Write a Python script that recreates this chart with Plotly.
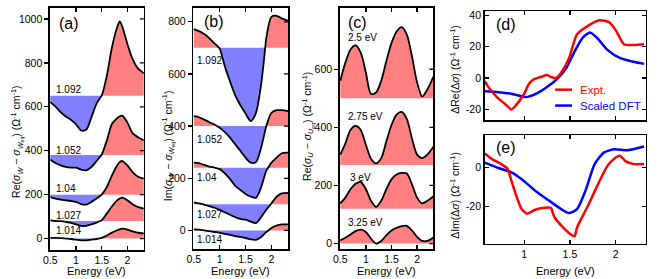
import plotly.graph_objects as go

W, H = 664, 279

# ---------------- data ----------------
E_A = [0.5, 0.6, 0.7, 0.8, 0.9, 1.0, 1.1, 1.2, 1.3, 1.4, 1.5, 1.6, 1.7, 1.8, 1.85, 1.9, 2.0, 2.1, 2.2, 2.32]
A_LABELS = ["1.092", "1.052", "1.04", "1.027", "1.014"]
A_BASE = [650, 380, 200, 80, 0]
A_1092 = [621, 601, 576, 556, 541, 520, 492, 496, 553, 614, 651, 742, 871, 962, 989, 965, 886, 818, 776, 753]
A_1052 = [359, 344, 333, 326, 323, 323, 314, 311, 326, 353, 382, 447, 523, 548, 557, 560, 528, 480, 462, 447]
A_1040 = [189, 182, 177, 174, 171, 167, 157, 155, 167, 182, 200, 235, 288, 333, 348, 353, 333, 303, 283, 273]
A_1027 = [83, 80, 79, 76, 71, 65, 58, 58, 65, 73, 83, 114, 147, 174, 182, 186, 174, 156, 144, 136]
A_1014 = [3, 3, 2, 0, -2, -5, -8, -8, -5, -2, 3, 14, 27, 38, 42, 45, 41, 33, 27, 23]
A_LABEL_Y = [677, 401, 230, 106, 38]

E_B = [0.5, 0.6, 0.7, 0.8, 0.9, 1.0, 1.1, 1.2, 1.3, 1.4, 1.5, 1.6, 1.7, 1.8, 1.9, 2.0, 2.1, 2.2, 2.32]
B_BASE = [700, 400, 240, 100, 0]
B_1092 = [772, 764, 753, 737, 717, 698, 629, 571, 518, 480, 448, 419, 451, 559, 737, 819, 823, 813, 804]
B_1052 = [438, 434, 425, 415, 406, 394, 377, 356, 330, 305, 279, 260, 262, 317, 400, 451, 461, 461, 457]
B_1040 = [260, 258, 251, 245, 241, 235, 219, 197, 171, 155, 140, 130, 125, 165, 229, 260, 279, 296, 298]
B_1027 = [108, 104, 99, 93, 87, 79, 69, 60, 51, 44, 41, 34, 28, 51, 79, 104, 129, 142, 144]
B_1014 = [4, 3, 0, -3, -6, -9, -13, -17, -22, -25, -29, -34, -36, -25, -6, 9, 19, 23, 23]
B_LABEL_Y = [650, 349, 203, 63, -36]

E_C = [0.5, 0.6, 0.7, 0.8, 0.9, 1.0, 1.1, 1.2, 1.3, 1.4, 1.5, 1.6, 1.7, 1.8, 1.9, 2.0, 2.1, 2.2, 2.32]
C_LABELS = ["2.5 eV", "2.75 eV", "3 eV", "3.25 eV"]
C_BASE = [500, 270, 120, 0]
C_250 = [560, 623, 668, 682, 657, 589, 515, 520, 560, 628, 690, 730, 745, 719, 645, 555, 506, 530, 575]
C_275 = [306, 345, 391, 405, 391, 340, 292, 276, 294, 351, 408, 444, 453, 428, 362, 306, 294, 306, 333]
C_300 = [138, 158, 187, 206, 212, 187, 147, 126, 147, 187, 221, 238, 243, 241, 204, 158, 138, 147, 163]
C_325 = [11, 20, 31, 43, 48, 40, 17, 0, 9, 28, 45, 54, 60, 61, 45, 23, 9, 9, 21]
C_LABEL_Y = [708, 436, 229, 74]
C_LABEL_X = [0.61, 0.61, 0.65, 0.61]

D_E_EXPT = [0.57, 0.6, 0.7, 0.8, 0.86, 0.9, 1.0, 1.05, 1.1, 1.2, 1.25, 1.3, 1.35, 1.4, 1.49, 1.55, 1.58, 1.71, 1.82, 1.93, 2.0, 2.09, 2.2, 2.31]
D_EXPT = [-2, -5, -12, -17, -20, -18, -10, -4, -1, 1, 2, 0.5, 0, 3, 12.6, 24, 28, 33.7, 36.8, 35.4, 30.5, 21.5, 21, 21.5]
D_E_DFT = [0.57, 0.72, 0.86, 1.0, 1.04, 1.15, 1.26, 1.37, 1.46, 1.55, 1.64, 1.72, 1.8, 1.91, 2.05, 2.18, 2.31]
D_DFT = [-8.4, -9, -10, -12, -12, -9.5, -5.3, 0, 6.3, 16.8, 25.7, 29, 25.3, 17.9, 12.6, 10.5, 9]

E_E_EXPT = [0.57, 0.65, 0.75, 0.82, 0.86, 0.92, 0.97, 1.03, 1.12, 1.22, 1.29, 1.33, 1.42, 1.51, 1.55, 1.58, 1.69, 1.80, 1.91, 2.0, 2.05, 2.11, 2.2, 2.31]
E_EXPT = [7.1, 4.2, 1.7, -0.8, -6.8, -15.3, -21.2, -23.7, -21.7, -20.7, -20.7, -25.4, -30.5, -34.4, -35.3, -30.5, -20.3, -9.3, 0.8, 5.1, 5.9, 3.1, 1.7, 1.7]
E_E_DFT = [0.57, 0.72, 0.86, 0.97, 1.12, 1.26, 1.40, 1.49, 1.58, 1.67, 1.77, 1.87, 1.98, 2.13, 2.31]
E_DFT = [2.5, -0.3, -2.5, -5.9, -11.9, -16.6, -21.2, -23.4, -21.2, -11.9, 1.7, 7.6, 9.3, 8.8, 10.7]

RED_FILL = "rgb(255,128,128)"
BLUE_FILL = "rgb(128,128,255)"
FONT = "Liberation Sans, Arial, sans-serif"

# ---------------- figure ----------------
fig = go.Figure()


def dx(p):
    return p / W


def dy(p):
    return 1 - p / H


def with_crossings(xs, ys, base):
    px, py = [xs[0]], [ys[0]]
    for i in range(1, len(xs)):
        a, b = ys[i - 1] - base, ys[i] - base
        if a * b < 0:
            t = a / (a - b)
            px.append(xs[i - 1] + t * (xs[i] - xs[i - 1]))
            py.append(base)
        px.append(xs[i])
        py.append(ys[i])
    return px, py


line_traces = []


def stacked(xs, ys, base, axn):
    xa = "x" if axn == 1 else f"x{axn}"
    ya = "y" if axn == 1 else f"y{axn}"
    px, py = with_crossings(xs, ys, base)
    up = [max(v, base) for v in py]
    dn = [min(v, base) for v in py]
    for vals, col in ((up, RED_FILL), (dn, BLUE_FILL)):
        fig.add_trace(go.Scatter(x=[px[0], px[-1]], y=[base, base], mode="lines",
                                 line=dict(width=0), xaxis=xa, yaxis=ya,
                                 hoverinfo="skip", showlegend=False))
        fig.add_trace(go.Scatter(x=px, y=vals, mode="lines", fill="tonexty",
                                 fillcolor=col, line=dict(width=0, shape="spline", smoothing=0.8),
                                 xaxis=xa, yaxis=ya, hoverinfo="skip", showlegend=False))
    line_traces.append(go.Scatter(x=px, y=py, mode="lines",
                                  line=dict(color="black", width=1.8, shape="spline", smoothing=0.8),
                                  xaxis=xa, yaxis=ya, hoverinfo="skip", showlegend=False))


for ys, b in zip([A_1092, A_1052, A_1040, A_1027, A_1014], A_BASE):
    stacked(E_A, ys, b, 1)
for ys, b in zip([B_1092, B_1052, B_1040, B_1027, B_1014], B_BASE):
    stacked(E_B, ys, b, 2)
for ys, b in zip([C_250, C_275, C_300, C_325], C_BASE):
    stacked(E_C, ys, b, 3)
for t in line_traces:
    fig.add_trace(t)

fig.add_trace(go.Scatter(x=D_E_DFT, y=D_DFT, mode="lines", line=dict(color="#0000ff", width=2.5, shape="spline", smoothing=0.6),
                         xaxis="x4", yaxis="y4", showlegend=False))
fig.add_trace(go.Scatter(x=D_E_EXPT, y=D_EXPT, mode="lines", line=dict(color="#ff0000", width=2.5, shape="spline", smoothing=0.6),
                         xaxis="x4", yaxis="y4", showlegend=False))
fig.add_trace(go.Scatter(x=E_E_DFT, y=E_DFT, mode="lines", line=dict(color="#0000ff", width=2.5, shape="spline", smoothing=0.6),
                         xaxis="x5", yaxis="y5", showlegend=False))
fig.add_trace(go.Scatter(x=E_E_EXPT, y=E_EXPT, mode="lines", line=dict(color="#ff0000", width=2.5, shape="spline", smoothing=0.6),
                         xaxis="x5", yaxis="y5", showlegend=False))

boxes = {
    1: (43.3, 138.3, 6, 250),
    2: (188.3, 284, 6, 249),
    3: (336.3, 431, 5.7, 249),
    4: (482.7, 645.7, 9.3, 119),
    5: (482.7, 645.7, 134, 243.3),
}
xranges = {1: [0.49, 2.32], 2: [0.49, 2.32], 3: [0.49, 2.32], 4: [0.568, 2.33], 5: [0.568, 2.33]}
yranges = {1: [-53, 1050], 2: [-72, 853], 3: [-19.5, 812], 4: [-26.8, 42.5], 5: [-39, 16.6]}
yticks = {1: [0, 200, 400, 600, 800, 1000], 2: [0, 200, 400, 600, 800], 3: [0, 200, 400, 600],
          4: [-20, 0, 20, 40], 5: [-20, 0]}
xticks = [0.5, 1, 1.5, 2]
xtick_text = ["0.5", "1", "1.5", "2"]

tickfont = dict(family=FONT, size=10.5, color="black")
layout = dict(width=W, height=H, margin=dict(l=0, r=0, t=0, b=0),
              paper_bgcolor="white", plot_bgcolor="white", showlegend=False)
shapes = []
for n, (x0, x1, y0, y1) in boxes.items():
    xk = "xaxis" if n == 1 else f"xaxis{n}"
    yk = "yaxis" if n == 1 else f"yaxis{n}"
    an = "y" if n == 1 else f"y{n}"
    anx = "x" if n == 1 else f"x{n}"
    layout[xk] = dict(domain=[dx(x0), dx(x1)], range=xranges[n], anchor=an,
                      showgrid=False, zeroline=False, showline=True, linecolor="black", linewidth=1.5,
                      mirror="ticks", ticks="inside", ticklen=4, tickwidth=1.3, tickcolor="black",
                      tickvals=xticks if n < 4 else [1, 1.5, 2],
                      ticktext=xtick_text if n < 4 else ["1", "1.5", "2"],
                      showticklabels=(n != 4), tickfont=tickfont)
    ylab = [str(v) for v in yticks[n]]
    layout[yk] = dict(domain=[dy(y1), dy(y0)], range=yranges[n], anchor=anx,
                      showgrid=False, zeroline=False, showline=True, linecolor="black", linewidth=1.5,
                      mirror="ticks" if n >= 4 else True,
                      ticks="inside" if n >= 4 else "outside", ticklen=4, tickwidth=1.3, tickcolor="black",
                      tickvals=yticks[n], ticktext=ylab, tickfont=tickfont)
    if n < 4:
        frac = 4 / (x1 - x0)
        for v in yticks[n]:
            shapes.append(dict(type="line", xref=f"{anx} domain", yref=an, x0=1 - frac, x1=1, y0=v, y1=v,
                               line=dict(color="black", width=1.3)))

# legend (d)
shapes.append(dict(type="line", xref="paper", yref="paper", x0=dx(554), x1=dx(571), y0=dy(88.3), y1=dy(88.3),
                   line=dict(color="#ff0000", width=2.5)))
shapes.append(dict(type="line", xref="paper", yref="paper", x0=dx(554), x1=dx(571), y0=dy(104.3), y1=dy(104.3),
                   line=dict(color="#0000ff", width=2.5)))
layout["shapes"] = shapes

ann = []


def note(text, x, y, size=11, xanchor="center", yanchor="middle", angle=0, color="black", xref="paper", yref="paper"):
    ann.append(dict(text=text, x=x, y=y, xref=xref, yref=yref, showarrow=False, xanchor=xanchor,
                    yanchor=yanchor, textangle=angle, font=dict(family=FONT, size=size, color=color)))


# panel letters
for t, px, py in [("(a)", 51, 22), ("(b)", 197, 20), ("(c)", 343, 21), ("(d)", 492, 23), ("(e)", 492, 147)]:
    note(t, dx(px), dy(py), size=16, xanchor="left")

# Energy titles
for n in (1, 2, 3, 5):
    x0, x1, y0, y1 = boxes[n]
    note("Energy (eV)", dx((x0 + x1) / 2), dy(270.5), size=11)

unit = " (Ω<sup>-1</sup> cm<sup>-1</sup>)"
note("Re(<i>σ</i><sub><i>W</i></sub> − <i>σ</i><sub><i>W</i><sub>eq</sub></sub>)" + unit, dx(10), dy(141), size=10.5, angle=-90)
note("Im(<i>σ</i><sub><i>W</i></sub> − <i>σ</i><sub><i>W</i><sub>eq</sub></sub>)" + unit, dx(163), dy(145), size=10.5, angle=-90)
note("Re(<i>σ</i><sub><i>U</i></sub> − <i>σ</i><sub><i>U</i><sub>eq</sub></sub>)" + unit, dx(304), dy(125), size=10.5, angle=-90)
note("ΔRe(Δ<i>σ</i>)" + unit, dx(452), dy(68), size=10.5, angle=-90)
note("ΔIm(Δ<i>σ</i>)" + unit, dx(452), dy(195), size=10.5, angle=-90)

# curve labels
for t, yv in zip(A_LABELS, A_LABEL_Y):
    note(t, 0.58, yv, size=10, xanchor="left", xref="x", yref="y")
for t, yv in zip(A_LABELS, B_LABEL_Y):
    note(t, 0.53, yv, size=10, xanchor="left", xref="x2", yref="y2")
for t, xv, yv in zip(C_LABELS, C_LABEL_X, C_LABEL_Y):
    note(t, xv, yv, size=10, xanchor="left", xref="x3", yref="y3")

# legend text
note("Expt.", dx(577), dy(88.3), size=11.5, xanchor="left", color="#ff0000")
note("Scaled DFT", dx(577), dy(104.3), size=11.5, xanchor="left", color="#0000ff")

layout["annotations"] = ann
fig.update_layout(**layout)
fig.write_html("out.html", config={"displayModeBar": False, "staticPlot": True},
               post_script="document.body.style.margin='0';document.body.style.overflow='hidden';")
